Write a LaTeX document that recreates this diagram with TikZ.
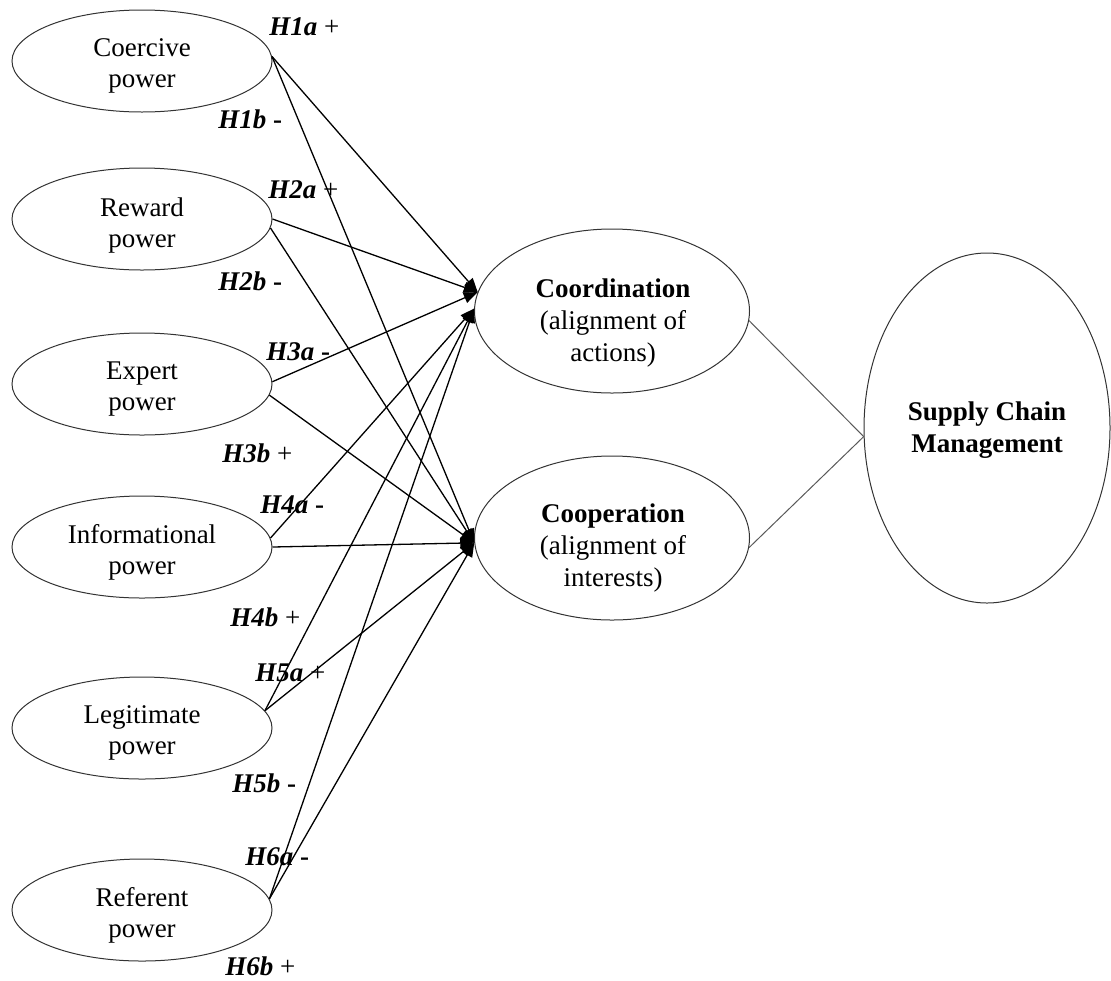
\documentclass[tikz,border=0pt]{standalone}
\usepackage{fontspec}
\setmainfont{Liberation Serif}
\usetikzlibrary{arrows.meta,shapes.geometric}
\begin{document}
\begin{tikzpicture}[x=0.5pt,y=-0.5pt,
  font=\fontsize{13.5}{15.5}\selectfont,
  src/.style={ellipse,draw=black!80,line width=0.5pt,minimum width=130pt,minimum height=51pt,inner sep=0pt},
  mid/.style={ellipse,draw=black!80,line width=0.5pt,minimum width=137.5pt,minimum height=82pt,inner sep=0pt},
  txt/.style={align=center,inner sep=0pt},
  bigtxt/.style={align=center,inner sep=0pt,font=\fontsize{13.5}{16}\selectfont},
  hyp/.style={anchor=base west,inner sep=0pt},
  arr/.style={line width=0.65pt,-{Triangle[length=7pt,width=5.5pt]}},
  link/.style={draw=black!65,line width=0.5pt}]
\useasboundingbox (0,0) rectangle (1111,980);

% source constructs
\node[src] (c1) at (142,61) {};
\node[txt] (c1t) at (142,66) {Coercive\\power};
\node[src] (c2) at (142,219) {};
\node[txt] (c2t) at (142,225) {Reward\\power};
\node[src] (c3) at (142,384) {};
\node[txt] (c3t) at (142,389) {Expert\\power};
\node[src] (c4) at (142,547) {};
\node[txt] (c4t) at (142,552) {Informational\\power};
\node[src] (c5) at (142,728) {};
\node[txt] (c5t) at (142,733) {Legitimate\\power};
\node[src] (c6) at (142,910) {};
\node[txt] (c6t) at (142,915) {Referent\\power};

% mediators
\node[mid] (co) at (612,311) {};
\node[bigtxt] (cot) at (613,323) {\textbf{Coordination}\\(alignment of\\actions)};
\node[mid] (cp) at (612,538) {};
\node[bigtxt] (cpt) at (613,548) {\textbf{Cooperation}\\(alignment of\\interests)};

% outcome
\node[ellipse,draw=black!80,line width=0.5pt,minimum width=123pt,minimum height=175pt,inner sep=0pt] (scm) at (987,428) {};
\node[bigtxt] (scmt) at (987,430) {\textbf{Supply Chain}\\\textbf{Management}};

% hypotheses arrows
\draw[arr] (c1.2) -- (co.172);
\draw[arr] (c1.2) -- (cp.182);
\draw[arr] (c2.0) -- (co.172);
\draw[arr] (c2.-4) -- (cp.182);
\draw[arr] (c3.1) -- (co.172);
\draw[arr] (c3.-5) -- (cp.182);
\draw[arr] (c4.4) -- (co.179);
\draw[arr] (c4.0) -- (cp.182);
\draw[arr] (c5.8) -- (co.179);
\draw[arr] (c5.8) -- (cp.182);
\draw[arr] (c6.5) -- (co.179);
\draw[arr] (c6.5) -- (cp.182);

% links to SCM
\draw[link] (co.-4) -- (scm.184);
\draw[link] (cp.-4) -- (scm.184);

% hypothesis labels
\node[hyp] (h1a) at (269,35) {\textbf{\textit{H1a}} +};
\node[hyp] (h1b) at (218,128) {\textbf{\textit{H1b}} \textbf{-}};
\node[hyp] (h2a) at (268,198) {\textbf{\textit{H2a}} +};
\node[hyp] (h2b) at (218,290) {\textbf{\textit{H2b}} \textbf{-}};
\node[hyp] (h3a) at (266,360) {\textbf{\textit{H3a}} \textbf{-}};
\node[hyp] (h3b) at (222,462) {\textbf{\textit{H3b}} +};
\node[hyp] (h4a) at (260,513) {\textbf{\textit{H4a}} \textbf{-}};
\node[hyp] (h4b) at (230,626) {\textbf{\textit{H4b}} +};
\node[hyp] (h5a) at (255,681) {\textbf{\textit{H5a}} +};
\node[hyp] (h5b) at (232,792) {\textbf{\textit{H5b}} \textbf{-}};
\node[hyp] (h6a) at (245,865) {\textbf{\textit{H6a}} \textbf{-}};
\node[hyp] (h6b) at (225,975) {\textbf{\textit{H6b}} +};
\end{tikzpicture}
\end{document}
